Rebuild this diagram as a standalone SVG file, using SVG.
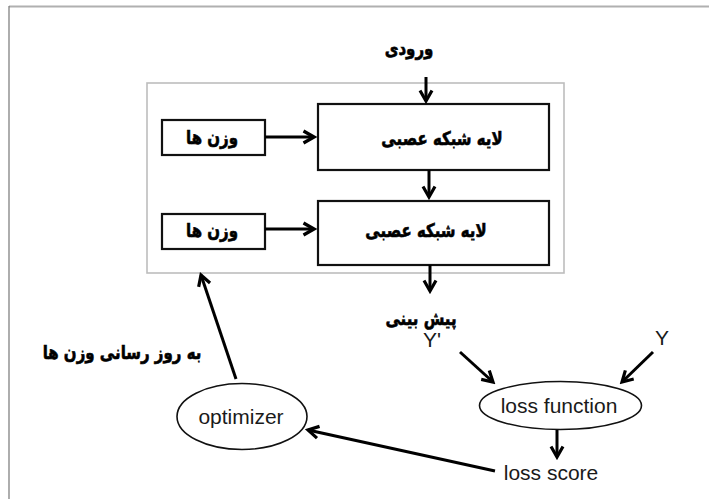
<svg xmlns="http://www.w3.org/2000/svg" width="709" height="499" viewBox="0 0 709 499">
<style>
.fa{font-family:"DejaVu Sans",sans-serif;font-weight:bold;font-size:15px;fill:#000;stroke:#000;stroke-width:0.5;text-anchor:middle}
.en{font-family:"Liberation Sans",Arial,sans-serif;font-size:21px;fill:#1a1a1a;text-anchor:middle}
.box{fill:#fff;stroke:#111;stroke-width:2.2}
.ell{fill:#fff;stroke:#111;stroke-width:1.6}
.con line{stroke:#000;stroke-width:3;marker-end:url(#ah)}
</style>
<defs>
<marker id="ah" markerUnits="userSpaceOnUse" viewBox="0 0 16 16" refX="13" refY="8" markerWidth="16" markerHeight="16" orient="auto">
<path d="M2.5,2 L13,8 L2.5,14" fill="none" stroke="#000" stroke-width="3.2"/>
</marker>
</defs>
<rect width="709" height="499" fill="#fff"/>
<g id="frame">
<line x1="9" y1="6.5" x2="709" y2="6.5" stroke="#b0b0b0" stroke-width="1.8"/>
<line x1="9" y1="6" x2="9" y2="499" stroke="#777" stroke-width="1.2"/>
</g>
<g id="container"><rect x="147" y="83" width="417" height="190" fill="none" stroke="#bdbdbd" stroke-width="1.6"/></g>
<g id="input"><text class="fa" transform="translate(409,55) scale(1,1.25)">ورودی</text></g>
<g id="layer1"><rect class="box" x="318" y="104" width="231" height="66"/><text class="fa" transform="translate(442,145) scale(1,1.25)">لایه شبکه عصبی</text></g>
<g id="layer2"><rect class="box" x="318" y="201" width="231" height="64"/><text class="fa" transform="translate(426,237) scale(1,1.25)">لایه شبکه عصبی</text></g>
<g id="weights1"><rect class="box" x="162" y="120" width="103" height="35"/><text class="fa" transform="translate(212,144) scale(1,1.25)">وزن ها</text></g>
<g id="weights2"><rect class="box" x="162" y="214" width="103" height="35"/><text class="fa" transform="translate(212,237) scale(1,1.25)">وزن ها</text></g>
<g id="prediction"><text class="fa" transform="translate(421,325) scale(1,1.25)">پیش بینی</text><text class="en" x="432" y="347" font-size="19">Y'</text></g>
<g id="target"><text class="en" x="662" y="345">Y</text></g>
<g id="update"><text class="fa" transform="translate(122,359) scale(1,1.25)">به روز رسانی وزن ها</text></g>
<g id="lossfunction"><ellipse class="ell" cx="560.5" cy="405.5" rx="81" ry="24"/><text class="en" x="559" y="413">loss function</text></g>
<g id="lossscore"><text class="en" x="551" y="480" font-size="20">loss score</text></g>
<g id="optimizer"><ellipse class="ell" cx="242" cy="416.5" rx="65" ry="33"/><text class="en" x="241" y="424" font-size="22">optimizer</text></g>
<g id="connectors" class="con">
<line x1="426" y1="77" x2="426" y2="101"/>
<line x1="265" y1="137" x2="314" y2="137"/>
<line x1="265" y1="229" x2="314" y2="229"/>
<line x1="429" y1="170" x2="429" y2="197"/>
<line x1="430" y1="265" x2="430" y2="291"/>
<line x1="460" y1="352" x2="493" y2="382"/>
<line x1="653" y1="352" x2="622" y2="382"/>
<line x1="557" y1="430" x2="557" y2="457"/>
<line x1="495" y1="471" x2="308" y2="430"/>
<line x1="236" y1="379" x2="201" y2="275"/>
</g>
</svg>
